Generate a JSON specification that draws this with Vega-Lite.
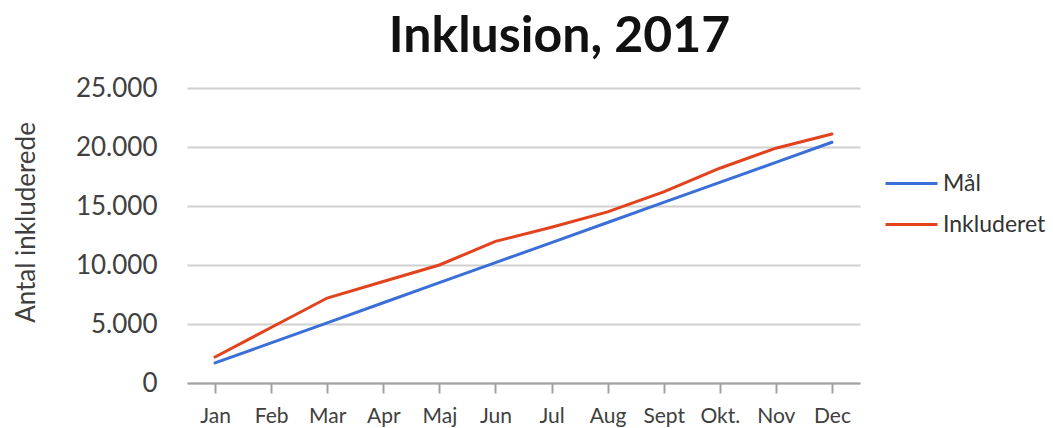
{
  "$schema": "https://vega.github.io/schema/vega-lite/v6.json",
  "autosize": {"type": "none"},
  "width": 673,
  "height": 295,
  "padding": {"left": 187, "top": 88, "right": 193, "bottom": 45},
  "background": "white",
  "title": {
    "text": "Inklusion, 2017",
    "font": "Lato",
    "fontSize": 50,
    "fontWeight": "bold",
    "color": "#111111",
    "anchor": "middle",
    "dx": 36,
    "offset": 13
  },
  "config": {
    "font": "Lato",
    "view": {"stroke": null}
  },
  "data": {
    "values": [
      {"month": "Jan", "serie": "Mål", "value": 1700},
      {"month": "Feb", "serie": "Mål", "value": 3400},
      {"month": "Mar", "serie": "Mål", "value": 5100},
      {"month": "Apr", "serie": "Mål", "value": 6800},
      {"month": "Maj", "serie": "Mål", "value": 8500},
      {"month": "Jun", "serie": "Mål", "value": 10200},
      {"month": "Jul", "serie": "Mål", "value": 11900},
      {"month": "Aug", "serie": "Mål", "value": 13600},
      {"month": "Sept", "serie": "Mål", "value": 15300},
      {"month": "Okt.", "serie": "Mål", "value": 17000},
      {"month": "Nov", "serie": "Mål", "value": 18700},
      {"month": "Dec", "serie": "Mål", "value": 20400},
      {"month": "Jan", "serie": "Inkluderet", "value": 2200},
      {"month": "Feb", "serie": "Inkluderet", "value": 4700},
      {"month": "Mar", "serie": "Inkluderet", "value": 7200},
      {"month": "Apr", "serie": "Inkluderet", "value": 8600},
      {"month": "Maj", "serie": "Inkluderet", "value": 10000},
      {"month": "Jun", "serie": "Inkluderet", "value": 12000},
      {"month": "Jul", "serie": "Inkluderet", "value": 13200},
      {"month": "Aug", "serie": "Inkluderet", "value": 14500},
      {"month": "Sept", "serie": "Inkluderet", "value": 16200},
      {"month": "Okt.", "serie": "Inkluderet", "value": 18200},
      {"month": "Nov", "serie": "Inkluderet", "value": 19900},
      {"month": "Dec", "serie": "Inkluderet", "value": 21100}
    ]
  },
  "mark": {"type": "line", "strokeWidth": 3, "strokeCap": "round"},
  "encoding": {
    "x": {
      "field": "month",
      "type": "ordinal",
      "sort": ["Jan", "Feb", "Mar", "Apr", "Maj", "Jun", "Jul", "Aug", "Sept", "Okt.", "Nov", "Dec"],
      "scale": {"type": "point", "padding": 0.5},
      "axis": {
        "title": null,
        "labelAngle": 0,
        "labelFontSize": 21,
        "labelColor": "#404040",
        "domainColor": "#a0a0a0",
        "domainWidth": 2,
        "tickColor": "#a0a0a0",
        "tickWidth": 2,
        "tickSize": 10,
        "labelPadding": 12,
        "grid": false
      }
    },
    "y": {
      "field": "value",
      "type": "quantitative",
      "scale": {"domain": [0, 25000], "nice": false},
      "axis": {
        "title": "Antal inkluderede",
        "titleFontSize": 26,
        "titleFontWeight": "normal",
        "titleColor": "#404040",
        "titlePadding": 36,
        "titleY": 134,
        "values": [0, 5000, 10000, 15000, 20000, 25000],
        "labelExpr": "replace(format(datum.value, ','), ',', '.')",
        "labelFontSize": 26,
        "labelColor": "#404040",
        "labelPadding": 30,
        "domain": false,
        "ticks": false,
        "grid": true,
        "gridColor": "#d0d0d0",
        "gridWidth": 2
      }
    },
    "color": {
      "field": "serie",
      "type": "nominal",
      "sort": ["Mål", "Inkluderet"],
      "scale": {"domain": ["Mål", "Inkluderet"], "range": ["#3b6fd8", "#e2421c"]},
      "legend": {
        "title": null,
        "orient": "none",
        "legendX": 697,
        "legendY": 68,
        "symbolType": "stroke",
        "symbolSize": 2700,
        "symbolStrokeWidth": 3,
        "labelFontSize": 23,
        "labelColor": "#333333",
        "rowPadding": 1,
        "labelOffset": 4
      }
    }
  }
}
